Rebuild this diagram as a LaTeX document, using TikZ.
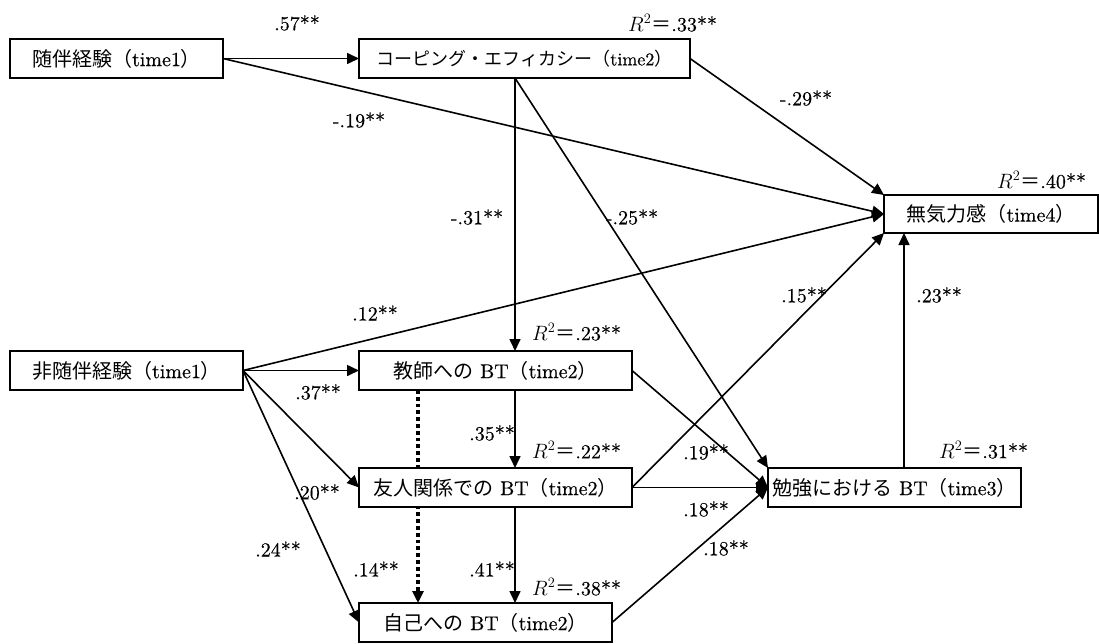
\documentclass[tikz,border=0pt]{standalone}
\usepackage{fontspec}
\setmainfont{lmroman10-regular}[Extension=.otf, FakeBold=0.4, ItalicFont=lmroman10-italic, BoldFont=lmroman10-bold]
\newfontfamily\cjk{Noto Sans CJK JP}
\usetikzlibrary{arrows.meta,calc,backgrounds}
\newcommand{\jp}[1]{{\cjk #1}}
\newcommand{\rsq}[1]{$R^2$\jp{＝}#1}
\begin{document}
\begin{tikzpicture}[x=1pt,y=-1pt,
  box/.style={draw, line width=1.5pt, fill=white, inner sep=0pt, outer sep=0pt,
    font=\fontsize{20}{24}\selectfont},
  lbl/.style={inner sep=0pt, font=\fontsize{20}{24}\selectfont},
  conn/.style={line width=1.6pt, -{Triangle[length=12pt,width=11pt]}},
  dotconn/.style={line width=3.8pt, dash pattern=on 3.8pt off 3pt, -{Triangle[length=12pt,width=11pt]}},
]
\useasboundingbox (0,0) rectangle (1099,643);

% boxes
\node[box, minimum width=213pt, minimum height=39pt] (A) at (116.5,58.5) {\jp{随伴経験（}time1\jp{）}};
\node[box, minimum width=331pt, minimum height=39pt, font=\fontsize{18}{22}\selectfont] (B) at (524.5,58.5) {\jp{コーピング・エフィカシー（}time2\jp{）}};
\node[box, minimum width=214pt, minimum height=38pt] (C) at (991,214) {\jp{無気力感（}time4\jp{）}};
\node[box, minimum width=233pt, minimum height=39pt] (D) at (126.5,370.5) {\jp{非随伴経験（}time1\jp{）}};
\node[box, minimum width=273pt, minimum height=39pt] (E) at (495.5,370.5) {\jp{教師への} BT\jp{（}time2\jp{）}};
\node[box, minimum width=273pt, minimum height=39pt] (F) at (495.5,487.5) {\jp{友人関係での} BT\jp{（}time2\jp{）}};
\node[box, minimum width=253pt, minimum height=39pt] (G) at (485.5,622.5) {\jp{自己への} BT\jp{（}time2\jp{）}};
\node[box, minimum width=253pt, minimum height=39pt] (H) at (894.5,487.5) {\jp{勉強における} BT\jp{（}time3\jp{）}};

% dotted path behind boxes
\begin{scope}[on background layer]
\draw[dotconn] ([xshift=59pt]E.south west) -- ([xshift=59pt]G.north west);
\end{scope}

% connectors
\draw[conn] (A.east) -- (B.west);
\draw[conn] (A.east) -- (C.west);
\draw[conn] (B.east) -- (C.north west);
\draw[conn] ([xshift=156pt]B.south west) -- ([xshift=156pt]E.north west);
\draw[conn] ([xshift=156pt]B.south west) -- (H.north west);
\draw[conn] ([xshift=156pt]E.south west) -- ([xshift=156pt]F.north west);
\draw[conn] ([xshift=156pt]F.south west) -- ([xshift=156pt]G.north west);
\draw[conn] (D.east) -- (E.west);
\draw[conn] (D.east) -- (F.west);
\draw[conn] (D.east) -- (G.west);
\draw[conn] (D.east) -- (C.west);
\draw[conn] (E.east) -- (H.west);
\draw[conn] (F.east) -- (H.west);
\draw[conn] (G.east) -- (H.west);
\draw[conn] (F.east) -- (C.south west);
\draw[conn] ([xshift=136pt]H.north west) -- ([xshift=20pt]C.south west);

% labels
\node[lbl] (l1) at (297,23) {.57**};
\node[lbl, anchor=west] (r1) at (628,23) {\rsq{.33**}};
\node[lbl] (l2) at (359,120) {-.19**};
\node[lbl] (l3) at (806,98) {-.29**};
\node[lbl, anchor=west] (r2) at (997,180) {\rsq{.40**}};
\node[lbl] (l4) at (477,217) {-.31**};
\node[lbl] (l5) at (632,217) {-.25**};
\node[lbl] (l6) at (804,295) {.15**};
\node[lbl] (l7) at (939,295) {.23**};
\node[lbl] (l8) at (375,313) {.12**};
\node[lbl, anchor=west] (r3) at (532,332) {\rsq{.23**}};
\node[lbl] (l9) at (318,392) {.37**};
\node[lbl] (l10) at (492,433) {.35**};
\node[lbl, anchor=west] (r4) at (532,450) {\rsq{.22**}};
\node[lbl] (l11) at (706,452) {.19**};
\node[lbl, anchor=west] (r5) at (939,450) {\rsq{.31**}};
\node[lbl] (l12) at (317,492) {.20**};
\node[lbl] (l13) at (706,509) {.18**};
\node[lbl] (l14) at (726,548) {.18**};
\node[lbl] (l15) at (278,549) {.24**};
\node[lbl] (l16) at (376,569) {.14**};
\node[lbl] (l17) at (492,569) {.41**};
\node[lbl, anchor=west] (r6) at (532,587) {\rsq{.38**}};
\end{tikzpicture}
\end{document}
